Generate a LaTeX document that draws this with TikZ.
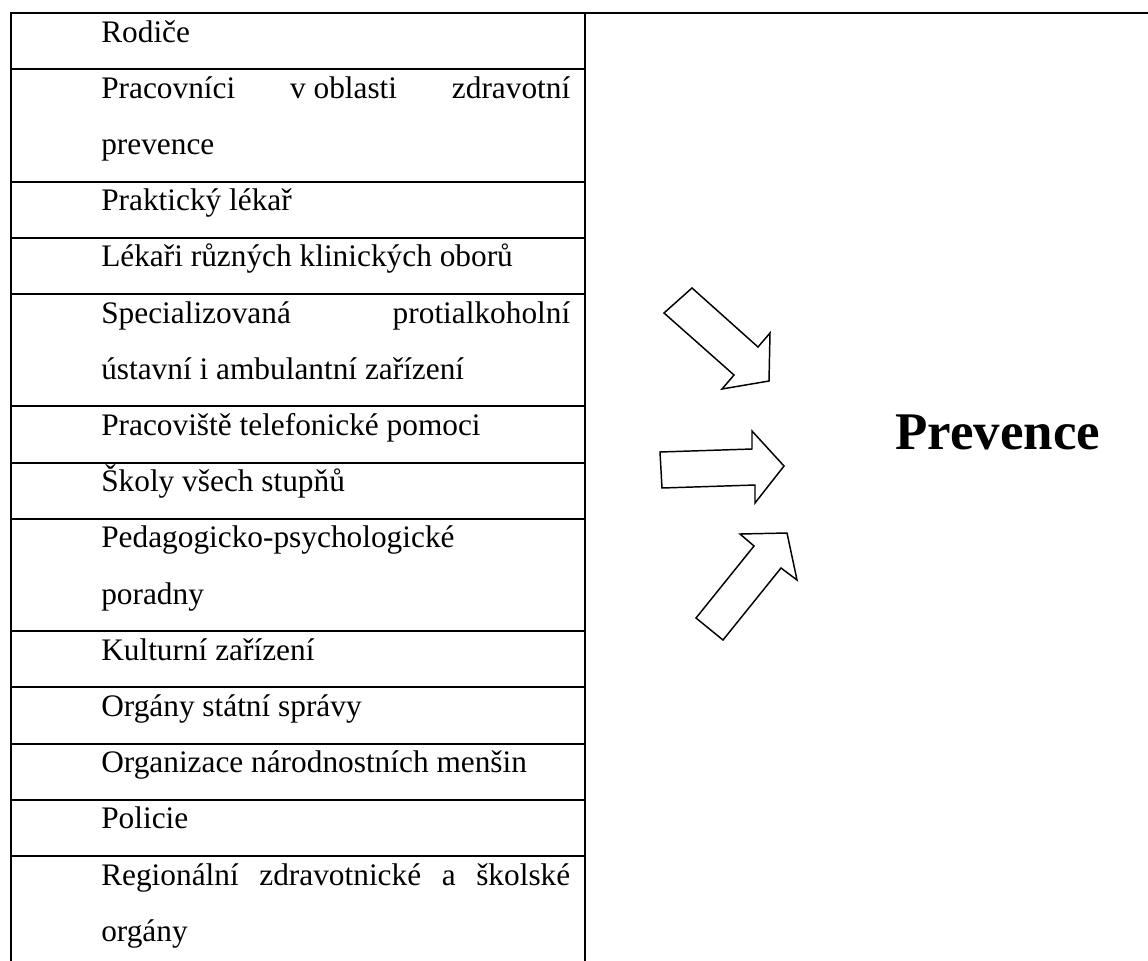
\documentclass[tikz,border=0pt]{standalone}
\usepackage{fontspec}
\setmainfont{Liberation Serif}
\newlength{\pxu}
\setlength{\pxu}{0.75pt}
\begin{document}
\begin{tikzpicture}[x=0.75pt,y=-0.75pt]
\tikzset{
  rule/.style={line width=1.4pt, line cap=rect},
  cell/.style={anchor=base west, inner sep=0pt, font=\fontsize{23.5}{28}\selectfont},
  bigtext/.style={anchor=base west, inner sep=0pt, font=\fontsize{39.7}{48}\selectfont\bfseries},
  blockarrow/.style={draw, line width=1.1pt, line join=miter, fill=white}
}
\useasboundingbox (0,0) rectangle (1148,960);
% table rules
\draw[rule] (11,13) -- (1148,13);
\draw[rule] (11,13) -- (11,962);
\draw[rule] (585,13) -- (585,962);
\foreach \k in {1,3,4,5,7,8,9,11,12,13,14,15} {
  \draw[rule] (11,13+\k*56.2) -- (585,13+\k*56.2);
}
% cell texts
\newcommand{\jline}[1]{\hbox to 469\pxu{#1}}
\node[cell] (t0)  at (101,42)    {Rodiče};
\node[cell] (t1)  at (101,98.2)  {\jline{Pracovníci\hfill v~oblasti\hfill zdravotní}};
\node[cell] (t2)  at (101,154.4) {prevence};
\node[cell] (t3)  at (101,210.6) {Praktický lékař};
\node[cell] (t4)  at (101,266.8) {Lékaři různých klinických oborů};
\node[cell] (t5)  at (101,323)   {\jline{Specializovaná\hfill protialkoholní}};
\node[cell] (t6)  at (101,379.2) {ústavní i ambulantní zařízení};
\node[cell] (t7)  at (101,435.4) {Pracoviště telefonické pomoci};
\node[cell] (t8)  at (101,491.6) {Školy všech stupňů};
\node[cell] (t9)  at (101,547.8) {Pedagogicko-psychologické};
\node[cell] (t10) at (101,604)   {poradny};
\node[cell] (t11) at (101,660.2) {Kulturní zařízení};
\node[cell] (t12) at (101,716.4) {Orgány státní správy};
\node[cell] (t13) at (101,772.6) {Organizace národnostních menšin};
\node[cell] (t14) at (101,828.8) {Policie};
\node[cell] (t15) at (101,885)   {\jline{Regionální\hfill zdravotnické\hfill a\hfill školské}};
\node[cell] (t16) at (101,941.2) {orgány};
% big label
\node[bigtext] (prev) at (895,449) {Prevence};
% block arrows
\draw[blockarrow] (664,313) -- (692,288) -- (758,347) -- (770,333) -- (769,381) -- (722,389) -- (734,375) -- cycle;
\draw[blockarrow] (660,452) -- (752,449) -- (752,431) -- (784,466) -- (755,503) -- (755,485) -- (662,488) -- cycle;
\draw[blockarrow] (696,618) -- (723,640) -- (781,568) -- (797,580) -- (787,533) -- (740,534) -- (754,546) -- cycle;
\end{tikzpicture}
\end{document}
